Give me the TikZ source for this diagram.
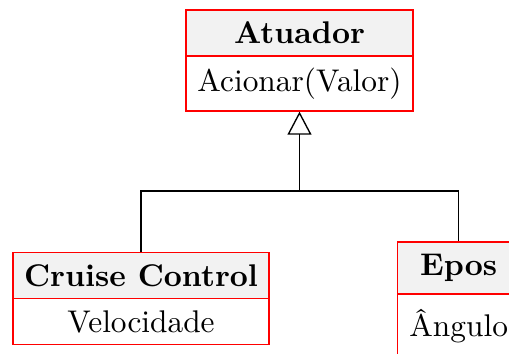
\documentclass[tikz,border=0pt]{standalone}
\usetikzlibrary{arrows.meta}
\begin{document}
\begin{tikzpicture}[x=0.33pt,y=-0.33pt,
  every node/.style={font=\fontsize{10.35pt}{12pt}\selectfont},
  hdr/.style={draw=red, fill=gray!10, inner sep=0pt, line width=0.4pt, font=\fontsize{10.35pt}{12pt}\selectfont\bfseries},
  bdy/.style={draw=red, fill=white, inner sep=0pt, line width=0.4pt},
  conn/.style={black, line width=0.45pt},
  gen/.style={conn, -{Triangle[open, length=7.6pt, width=7.9pt, fill=white]}}]
\path[use as bounding box] (0,0) rectangle (509,353);
\clip (0,0) rectangle (509,353);
% Atuador
\node[hdr, minimum width={227*0.33pt}, minimum height={46*0.33pt}] (aH) at (299.5,33) {Atuador};
\node[bdy, minimum width={227*0.33pt}, minimum height={55*0.33pt}] (aB) at (299.5,83.5) {Acionar(Valor)};
% Cruise Control
\node[hdr, minimum width={256*0.33pt}, minimum height={46*0.33pt}] (cH) at (141,275.7) {Cruise Control};
\node[bdy, minimum width={256*0.33pt}, minimum height={45.6*0.33pt}] (cB) at (141,321.5) {Velocidade};
% Epos
\node[hdr, minimum width={122.8*0.33pt}, minimum height={52*0.33pt}] (eH) at (458.7,268) {Epos};
\node[bdy, minimum width={122.8*0.33pt}, minimum height={80*0.33pt}] (eB) at (458.7,334) {};
\node[inner sep=0pt, anchor=base] (eT) at (458.7,336) {\^Angulo};
% connectors
\coordinate (j) at (299.5,191);
\draw[conn] (cH.north) |- (j) -| (eH.north);
\draw[gen] (j) -- (aB.south);
\end{tikzpicture}
\end{document}
